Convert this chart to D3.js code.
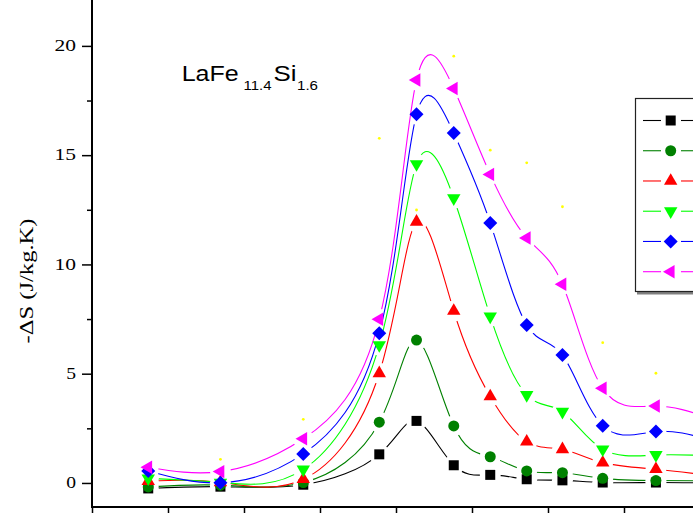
<!DOCTYPE html>
<html><head><meta charset="utf-8">
<script src="https://cdn.jsdelivr.net/npm/d3@7/dist/d3.min.js"></script>
<style>body{margin:0;background:#fff;overflow:hidden}</style>
</head><body>
<svg id="chart" width="693" height="513"></svg>
<script>
// ---------- data ----------
const temps = [177.4, 186.9, 197.8, 207.8, 212.7, 217.6, 222.4, 227.2, 231.9, 237.2, 244.2, 251.0];
const dsBlack   = [-0.25, -0.17, -0.08, 1.31, 2.84, 0.81, 0.37, 0.17, 0.12, 0.02, 0.02, 0.00];
const dsOlive   = [-0.18, -0.10, 0.02, 2.78, 6.54, 2.61, 1.20, 0.55, 0.47, 0.21, 0.11, 0.10];
const dsRed     = [0.08, 0.03, 0.17, 5.02, 11.95, 7.87, 3.96, 1.89, 1.54, 0.93, 0.63, 0.35];
const dsLime    = [0.21, 0.02, 0.62, 6.31, 14.59, 13.03, 7.62, 4.03, 3.26, 1.54, 1.28, 1.25];
const dsBlue    = [0.55, 0.01, 1.33, 6.85, 16.87, 16.01, 11.90, 7.23, 5.86, 2.62, 2.35, 2.00];
const dsMagenta = [0.72, 0.52, 2.02, 7.49, 18.44, 18.05, 14.12, 11.21, 9.09, 4.33, 3.52, 3.00];
const dotTemps  = [186.9, 197.8, 207.8, 212.7, 217.6, 222.4, 227.2, 231.9, 237.2, 244.2];
const dotValues = [1.08, 2.91, 15.77, 12.49, 19.53, 15.23, 14.65, 12.64, 6.42, 5.02];
const yTicks = [0, 5, 10, 15, 20];
const yMinor = [2.5, 7.5, 12.5, 17.5];
const xTicks = [170, 180, 190, 200, 210, 220, 230, 240, 250];

const series = [
  {values: dsBlack,   color: "#000000", symbol: d3.symbolSquare,   size: 100, rot: 0},
  {values: dsOlive,   color: "#008000", symbol: d3.symbolCircle,   size: 95,  rot: 0},
  {values: dsRed,     color: "#FF0000", symbol: d3.symbolTriangle, size: 78,  rot: 0},
  {values: dsLime,    color: "#00FF00", symbol: d3.symbolTriangle, size: 78,  rot: 180},
  {values: dsBlue,    color: "#0000FF", symbol: d3.symbolSquare,   size: 98,  rot: 45},
  {values: dsMagenta, color: "#FF00FF", symbol: d3.symbolTriangle, size: 78,  rot: -90}
];

// ---------- layout ----------
const svg = d3.select("#chart");
const x = d3.scaleLinear().domain([170, 250]).range([92, 700]);
const y = d3.scaleLinear().domain([-1.1, 22.1]).range([507, 0]);
const serif = "'Liberation Serif','Times New Roman',serif";
const sans = "'Liberation Sans',Arial,sans-serif";

const defs = svg.append("defs");
const gapR = 10.5;
series.forEach((s, i) => {
  const m = defs.append("mask").attr("id", "gap" + i)
    .attr("maskUnits", "userSpaceOnUse").attr("x", -50).attr("y", -50).attr("width", 900).attr("height", 700);
  m.append("rect").attr("x", -50).attr("y", -50).attr("width", 900).attr("height", 700).attr("fill", "#fff");
  m.selectAll("circle").data(temps).join("circle")
    .attr("cx", d => x(d)).attr("cy", (d, j) => y(s.values[j])).attr("r", gapR).attr("fill", "#000");
});

// lines
const line = d3.line().x((d, j) => x(temps[j])).y(d => y(d)).curve(d3.curveNatural);
series.forEach((s, i) => {
  svg.append("path").attr("d", line(s.values)).attr("fill", "none")
    .attr("stroke", s.color).attr("stroke-width", 1.1).attr("mask", `url(#gap${i})`);
});
// markers
series.forEach(s => {
  const sym = d3.symbol().type(s.symbol).size(s.size);
  svg.append("g").selectAll("path").data(s.values).join("path")
    .attr("d", sym)
    .attr("transform", (d, j) => `translate(${x(temps[j])},${y(d)}) rotate(${s.rot})`)
    .attr("fill", s.color);
});
// small yellow points
svg.append("g").selectAll("circle").data(dotValues).join("circle")
  .attr("cx", (d, j) => x(dotTemps[j])).attr("cy", d => y(d)).attr("r", 1.4).attr("fill", "#FFFF00");

// ---------- axes ----------
const yAxis = d3.axisLeft(y).tickValues(yTicks).tickSize(10).tickFormat("");
const gy = svg.append("g").attr("transform", "translate(92,0)").call(yAxis);
gy.select(".domain").remove();
gy.selectAll(".tick line").attr("stroke", "#000").attr("stroke-width", 1.5);
const gyMinor = svg.append("g").attr("transform", "translate(92,0)")
  .call(d3.axisLeft(y).tickValues(yMinor).tickSize(5).tickFormat(""));
gyMinor.select(".domain").remove();
gyMinor.selectAll(".tick line").attr("stroke", "#000").attr("stroke-width", 1.5);

svg.append("g").selectAll("text").data(yTicks).join("text")
  .attr("x", 76).attr("y", d => y(d) + 5.3)
  .attr("text-anchor", "end").attr("font-family", serif).attr("font-size", 16)
  .attr("textLength", d => String(d).length > 1 ? 21.5 : 9.8).attr("lengthAdjust", "spacingAndGlyphs")
  .attr("fill", "#000").text(d => d);

// bottom axis: only the tick marks fall inside the picture
const gx = svg.append("g").attr("transform", "translate(0,507)")
  .call(d3.axisBottom(x).tickValues(xTicks).tickSize(10).tickFormat(""));
gx.select(".domain").remove();
gx.selectAll(".tick line").attr("stroke", "#000").attr("stroke-width", 1.5);

svg.append("line").attr("x1", 92).attr("x2", 92).attr("y1", 0).attr("y2", 508)
  .attr("stroke", "#000").attr("stroke-width", 2);
svg.append("line").attr("x1", 91).attr("x2", 720).attr("y1", 507).attr("y2", 507)
  .attr("stroke", "#000").attr("stroke-width", 2);

// y title
svg.append("text").attr("transform", "translate(33,281) rotate(-90)")
  .attr("text-anchor", "middle").attr("font-family", serif).attr("font-size", 19)
  .attr("textLength", 125).attr("lengthAdjust", "spacingAndGlyphs")
  .attr("fill", "#000").text("-\u0394S (J/kg.K)");

// compound label
const lab = svg.append("g").attr("font-family", sans).attr("fill", "#000");
lab.append("text").attr("x", 181.7).attr("y", 80.7).attr("font-size", 22)
  .attr("textLength", 57).attr("lengthAdjust", "spacingAndGlyphs").text("LaFe");
lab.append("text").attr("x", 243.5).attr("y", 89.5).attr("font-size", 13)
  .attr("textLength", 28).attr("lengthAdjust", "spacingAndGlyphs").text("11.4");
lab.append("text").attr("x", 273.5).attr("y", 80.7).attr("font-size", 22)
  .attr("textLength", 23).attr("lengthAdjust", "spacingAndGlyphs").text("Si");
lab.append("text").attr("x", 297).attr("y", 89.5).attr("font-size", 13)
  .attr("textLength", 21).attr("lengthAdjust", "spacingAndGlyphs").text("1.6");

// ---------- legend (its labels lie beyond the right edge of the picture) ----------
const lg = svg.append("g");
lg.append("rect").attr("x", 637).attr("y", 100.5).attr("width", 120).attr("height", 194).attr("fill", "#808080");
lg.append("rect").attr("x", 635.5).attr("y", 98.5).attr("width", 120).attr("height", 193)
  .attr("fill", "#fff").attr("stroke", "#222").attr("stroke-width", 1.2);
const rowY = d3.scaleLinear().domain([0, 5]).range([120.5, 271.7]);
series.forEach((s, i) => {
  const yy = rowY(i);
  lg.append("line").attr("x1", 643).attr("x2", 661).attr("y1", yy).attr("y2", yy).attr("stroke", s.color).attr("stroke-width", 1.1);
  lg.append("line").attr("x1", 681).attr("x2", 699).attr("y1", yy).attr("y2", yy).attr("stroke", s.color).attr("stroke-width", 1.1);
  lg.append("path").attr("d", d3.symbol().type(s.symbol).size(s.size)())
    .attr("transform", `translate(670.7,${yy}) rotate(${s.rot})`).attr("fill", s.color);
});
</script>
</body></html>
